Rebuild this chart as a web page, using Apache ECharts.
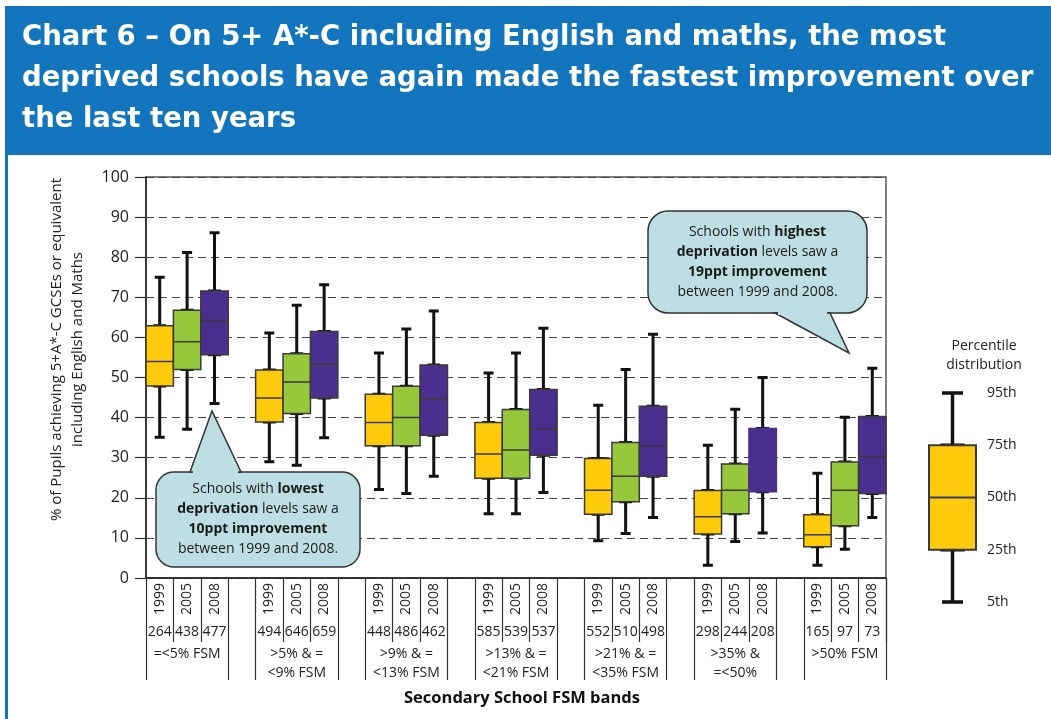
<!DOCTYPE html>
<html>
<head>
<meta charset="utf-8">
<script src="https://cdn.jsdelivr.net/npm/echarts@6/dist/echarts.min.js"></script>
<style>
html,body{margin:0;padding:0;background:#fff;}
#chart{width:1051px;height:719px;}
</style>
</head>
<body>
<div id="chart"></div>
<script>
// ---------- data ----------
const titleText = 'Chart 6 – On 5+ A*-C including English and maths, the most\ndeprived schools have again made the fastest improvement over\nthe last ten years';
const groupLabels = ['=<5% FSM', '>5% & =\n<9% FSM', '>9% & =\n<13% FSM', '>13% & =\n<21% FSM', '>21% & =\n<35% FSM', '>35% &\n=<50%', '>50% FSM'];
const yearLabels = ['1999', '2005', '2008'];
const schoolCounts = [[264,438,477],[494,646,659],[448,486,462],[585,539,537],[552,510,498],[298,244,208],[165,97,73]];
const p5  = [[35.1,37.1,43.5],[29.0,28.1,35.0],[22.1,21.1,25.4],[16.0,16.0,21.3],[9.3,11.1,15.1],[3.2,9.1,11.2],[3.2,7.2,15.1]];
const p25 = [[47.9,52.0,55.7],[38.9,41.0,44.9],[33.0,33.0,35.6],[24.9,24.9,30.6],[15.9,19.0,25.4],[11.0,16.0,21.5],[7.8,13.0,21.1]];
const p50 = [[54.0,58.9,64.2],[44.9,48.9,53.3],[38.8,40.0,44.7],[30.9,31.9,37.2],[21.9,25.4,32.9],[15.3,21.9,29.5],[10.8,21.9,30.3]];
const p75 = [[62.9,66.8,71.6],[51.9,55.9,61.5],[45.8,47.8,53.1],[38.8,42.0,47.0],[29.8,33.8,42.8],[21.8,28.4,37.3],[15.8,28.9,40.3]];
const p95 = [[75.0,81.2,86.1],[61.1,68.0,73.1],[56.1,62.1,66.6],[51.1,56.1,62.3],[43.1,52.0,60.8],[33.1,42.1,50.0],[26.1,40.1,52.3]];
const unoutlinedBoxes = ['5-2']; // group-year drawn without outline / median in the source
const yAxisName = '% of Pupils achieving 5+A*-C GCSEs or equivalent\nincluding English and Maths';
const xAxisName = 'Secondary School FSM bands';
const percentileLabels = ['5th', '25th', '50th', '75th', '95th'];
const legendWhiskerValues = [0, 1, 2, 3, 4];
const calloutLow = 'Schools with {b|lowest}\n{b|deprivation} levels saw a\n{b|10ppt improvement}\nbetween 1999 and 2008.';
const calloutHigh = 'Schools with {b|highest}\n{b|deprivation} levels saw a\n{b|19ppt improvement}\nbetween 1999 and 2008.';

// ---------- styling ----------
const yearColors = ['#FDCB0C', '#97C83C', '#4B2F8E'];
const boxBorder = '#3a3a3a';
const bubbleFill = '#BDDFE3';
const bubbleStroke = '#333';
const FONT = 'Open Sans';

// ---------- build slots ----------
const slots = [];
groupLabels.forEach((g, gi) => {
  yearLabels.forEach((y, yi) => slots.push({ gi, yi }));
  if (gi < groupLabels.length - 1) slots.push({ gi, yi: -1 });
});
const slotKeys = slots.map((s, i) => 's' + i);
const emptyItem = () => ['-', '-', '-', '-', '-'];

const whiskerData = slots.map(s => s.yi < 0 ? emptyItem() :
  [p5[s.gi][s.yi], p25[s.gi][s.yi], p50[s.gi][s.yi], p75[s.gi][s.yi], p95[s.gi][s.yi]]);
const boxData = slots.map(s => {
  if (s.yi < 0) return emptyItem();
  const plain = unoutlinedBoxes.indexOf(s.gi + '-' + s.yi) >= 0;
  return {
    value: [p25[s.gi][s.yi], p25[s.gi][s.yi], p50[s.gi][s.yi], p75[s.gi][s.yi], p75[s.gi][s.yi]],
    itemStyle: { color: yearColors[s.yi], borderColor: plain ? yearColors[s.yi] : boxBorder }
  };
});

const chart = echarts.init(document.getElementById('chart'), null, { renderer: 'canvas' });

function bubble(rect, tail, text) {
  const edgeY = tail.side === 'top' ? rect.y : rect.y + rect.h;
  return [
    { type: 'rect', z: 100, shape: { x: rect.x, y: rect.y, width: rect.w, height: rect.h, r: rect.r },
      style: { fill: bubbleFill, stroke: bubbleStroke, lineWidth: 1.5 } },
    { type: 'polygon', z: 101, shape: { points: [[tail.x1, edgeY], [tail.ax, tail.ay], [tail.x2, edgeY]] },
      style: { fill: bubbleFill, stroke: bubbleStroke, lineWidth: 1.5 } },
    { type: 'rect', z: 102, shape: { x: tail.x1 + 3, y: edgeY - 2, width: tail.x2 - tail.x1 - 6, height: 4 },
      style: { fill: bubbleFill } },
    { type: 'text', z: 103, x: rect.x + rect.w / 2, y: rect.y + rect.h / 2,
      style: { text: text, fill: '#1a1a1a', font: '14px "' + FONT + '"', align: 'center', verticalAlign: 'middle',
        lineHeight: 20, rich: { b: { fontWeight: 'bold', fontSize: 14, fontFamily: FONT, lineHeight: 20 } } } }
  ];
}

const option = {
  animation: false,
  textStyle: { fontFamily: FONT },
  title: [
    { text: titleText, left: 17, top: 12,
      textStyle: { color: '#fff', fontSize: 27.5, fontWeight: 'bold', fontFamily: 'DejaVu Sans', lineHeight: 41 } },
    { text: 'Percentile\ndistribution', left: 979, top: 332, textAlign: 'center',
      textStyle: { color: '#222', fontSize: 14, fontWeight: 'normal', fontFamily: FONT, lineHeight: 19 } }
  ],
  grid: [
    { left: 146, right: 165, top: 177, bottom: 141, show: true, borderColor: '#555', borderWidth: 1.5, containLabel: false },
    { left: 929, width: 47, top: 393, height: 209 }
  ],
  xAxis: [
    { type: 'category', gridIndex: 0, data: slotKeys, position: 'bottom', boundaryGap: true,
      axisLine: { show: true, lineStyle: { color: '#222', width: 1.5 } },
      axisTick: { show: true, length: 102, interval: (i) => i % 4 === 0 || i % 4 === 3, lineStyle: { color: '#333', width: 1.2 } },
      axisLabel: { interval: 0, rotate: 90, margin: 5, fontSize: 14, color: '#222',
        formatter: (v, i) => slots[i] && slots[i].yi >= 0 ? yearLabels[slots[i].yi] : '' },
      splitLine: { show: false } },
    { type: 'category', gridIndex: 0, data: slotKeys, position: 'bottom', boundaryGap: true,
      axisLine: { show: false },
      axisTick: { show: true, length: 64, interval: (i) => i % 4 === 1 || i % 4 === 2, lineStyle: { color: '#333', width: 1.2 } },
      axisLabel: { interval: 0, margin: 47, fontSize: 14, color: '#222',
        formatter: (v, i) => slots[i] && slots[i].yi >= 0 ? String(schoolCounts[slots[i].gi][slots[i].yi]) : '' },
      splitLine: { show: false } },
    { type: 'category', gridIndex: 0, data: slotKeys, position: 'bottom', boundaryGap: true,
      axisLine: { show: false }, axisTick: { show: false },
      axisLabel: { interval: 0, margin: 67, fontSize: 14, color: '#222', lineHeight: 19,
        formatter: (v, i) => slots[i] && slots[i].yi === 1 ? groupLabels[slots[i].gi] : '' },
      name: xAxisName, nameLocation: 'middle', nameGap: 112,
      nameTextStyle: { fontSize: 16.5, fontWeight: 'bold', color: '#111', padding: [0, 0, 0, 12] },
      splitLine: { show: false } },
    { type: 'category', gridIndex: 1, data: ['k'], show: false },
    { type: 'category', gridIndex: 1, data: ['k'], show: false }
  ],
  yAxis: [
    { type: 'value', gridIndex: 0, min: 0, max: 100, interval: 10,
      axisLine: { show: true, lineStyle: { color: '#222', width: 1.5 } },
      axisTick: { show: true, length: 11, lineStyle: { color: '#333', width: 1.2 } },
      axisLabel: { fontSize: 16, color: '#222', margin: 17 },
      splitLine: { show: true, lineStyle: { color: '#444', width: 1.2, type: [8, 5] } },
      name: yAxisName, nameLocation: 'middle', nameRotate: 90, nameGap: 58,
      nameTextStyle: { fontSize: 15, color: '#222', lineHeight: 21, align: 'center', padding: [0, 0, 0, 56] } },
    { type: 'value', gridIndex: 1, min: 0, max: 4, interval: 1, position: 'right',
      axisLine: { show: false }, axisTick: { show: false }, splitLine: { show: false },
      axisLabel: { margin: 11, fontSize: 14, color: '#222', formatter: (v) => percentileLabels[v] } }
  ],
  series: [
    { type: 'boxplot', xAxisIndex: 0, yAxisIndex: 0, data: whiskerData, boxWidth: [10, 10],
      itemStyle: { color: 'rgba(0,0,0,0)', borderColor: '#111', borderWidth: 3 },
      emphasis: { disabled: true }, silent: true },
    { type: 'boxplot', xAxisIndex: 1, yAxisIndex: 0, data: boxData, boxWidth: ['100%', '100%'],
      itemStyle: { borderWidth: 1.5, borderColor: boxBorder },
      emphasis: { disabled: true }, silent: true },
    { type: 'boxplot', xAxisIndex: 3, yAxisIndex: 1, data: [legendWhiskerValues], boxWidth: [21, 21],
      itemStyle: { color: 'rgba(0,0,0,0)', borderColor: '#111', borderWidth: 3.5 },
      emphasis: { disabled: true }, silent: true },
    { type: 'boxplot', xAxisIndex: 4, yAxisIndex: 1,
      data: [{ value: [legendWhiskerValues[1], legendWhiskerValues[1], legendWhiskerValues[2], legendWhiskerValues[3], legendWhiskerValues[3]],
               itemStyle: { color: yearColors[0], borderColor: boxBorder } }],
      boxWidth: ['100%', '100%'], itemStyle: { borderWidth: 2 },
      emphasis: { disabled: true }, silent: true }
  ],
  graphic: [
    { type: 'rect', z: 0, shape: { x: 5, y: 6, width: 1046, height: 149 }, style: { fill: '#1275BD' } },
    { type: 'rect', z: 0, shape: { x: 5, y: 155, width: 3, height: 564 }, style: { fill: '#1275BD' } }
  ].concat(
    bubble({ x: 156, y: 472, w: 204, h: 95, r: 18 }, { side: 'top', x1: 190, x2: 241, ax: 212, ay: 411 }, calloutLow),
    bubble({ x: 648, y: 211, w: 219, h: 102, r: 20 }, { side: 'bottom', x1: 775, x2: 830, ax: 849, ay: 353 }, calloutHigh)
  )
};
chart.setOption(option);
</script>
</body>
</html>
